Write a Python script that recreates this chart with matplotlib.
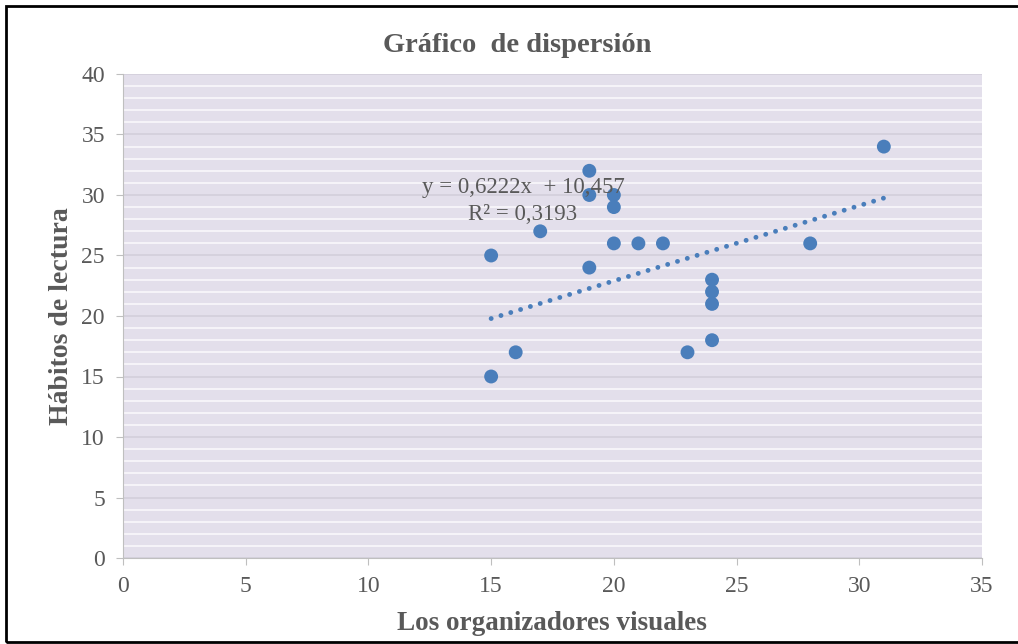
import matplotlib
matplotlib.use('Agg')
import matplotlib.pyplot as plt
from matplotlib.patches import Rectangle
import numpy as np

# data
organizadores = [15, 15, 16, 17, 19, 19, 19, 20, 20, 20, 21, 22, 23, 24, 24, 24, 24, 28, 31]
habitos = [25, 15, 17, 27, 32, 30, 24, 30, 29, 26, 26, 26, 17, 23, 22, 21, 18, 26, 34]
slope, intercept = 0.6222, 10.457
eq_text = 'y = 0,6222x  + 10,457'
r2_text = 'R² = 0,3193'

serif = ['Liberation Serif', 'DejaVu Serif']
grey = '#595959'
blue = '#4a7ebb'

fig = plt.figure(figsize=(10.18, 6.44), dpi=100)
ax = fig.add_axes([123 / 1018, 1 - 558 / 644, 859 / 1018, 484 / 644])
ax.set_facecolor('#e3dfeb')

ax.set_xlim(0, 35)
ax.set_ylim(0, 40)
ax.set_xticks(np.arange(0, 36, 5))
ax.set_yticks(np.arange(0, 41, 5))
ax.set_yticks(np.arange(0, 41, 1), minor=True)
ax.grid(which='minor', axis='y', color='#f7f6fa', lw=1.3)
ax.grid(which='major', axis='y', color='#d4d0dc', lw=1.3)
ax.set_axisbelow(True)

for s in ('top', 'right'):
    ax.spines[s].set_visible(False)
for s in ('left', 'bottom'):
    ax.spines[s].set_color('#bfbfbf')
ax.tick_params(which='major', length=5, color='#bfbfbf', labelcolor=grey, labelsize=17, pad=8)
ax.tick_params(which='minor', length=0)
for lab in ax.get_xticklabels() + ax.get_yticklabels():
    lab.set_family(serif)

# trendline
xt = np.array([min(organizadores), max(organizadores)])
ax.plot(xt, slope * xt + intercept, color=blue, lw=3.5, ls=(0, (0.01, 2.1)),
        dash_capstyle='round', zorder=2)

ax.scatter(organizadores, habitos, s=100, color=blue, edgecolors='none', zorder=3)

ax.text(12.2, 30.6, eq_text, family=serif, fontsize=16.5, color=grey, va='center', ha='left')
ax.text(16.3, 28.4, r2_text, family=serif, fontsize=16.5, color=grey, va='center', ha='center')

fig.text(0.508, 1 - 45 / 644, 'Gráfico  de dispersión', family=serif, fontsize=20.5,
         weight='bold', color=grey, ha='center', va='center')
fig.text(552 / 1018, 1 - 624 / 644, 'Los organizadores visuales', family=serif, fontsize=19.5,
         weight='bold', color=grey, ha='center', va='center')
fig.text(62 / 1018, 1 - 316 / 644, 'Hábitos de lectura', family=serif, fontsize=20,
         weight='bold', color=grey, ha='center', va='center', rotation=90)

fig.patches.append(Rectangle((6 / 1018, 2 / 644), 1.05, 636 / 644, transform=fig.transFigure,
                             fill=False, edgecolor='black', lw=2))

fig.savefig('out.png', dpi=100)
